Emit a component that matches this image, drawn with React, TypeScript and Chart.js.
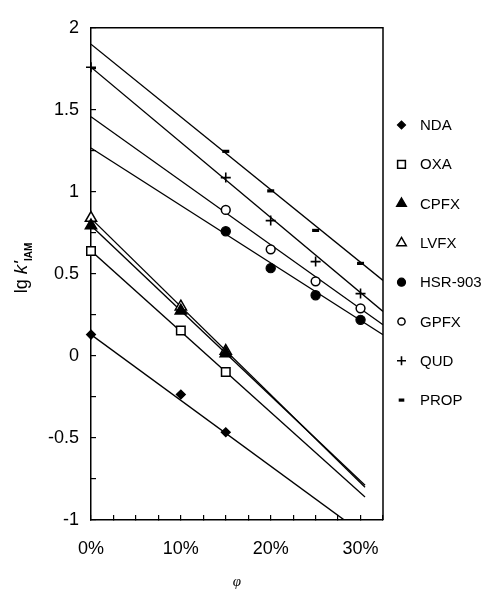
import React, { useEffect, useRef } from 'react';
import { Chart, registerables } from 'chart.js';
import { drawPoint } from 'chart.js/helpers';

Chart.register(...registerables);

const SANS = "'Liberation Sans', Arial, sans-serif";
const SERIF = "'Liberation Serif', 'Times New Roman', serif";

// ---- data ----
const seriesNames = ['NDA', 'OXA', 'CPFX', 'LVFX', 'HSR-903', 'GPFX', 'QUD', 'PROP'];

const ndaX = [0, 10, 15];
const ndaY = [0.13, -0.235, -0.465];
const oxaX = [0, 10, 15];
const oxaY = [0.64, 0.155, -0.098];
const cpfxX = [0, 10, 15];
const cpfxY = [0.795, 0.275, 0.015];
const lvfxX = [0, 10, 15];
const lvfxY = [0.84, 0.3, 0.03];
const hsrX = [15, 20, 25, 30];
const hsrY = [0.76, 0.535, 0.37, 0.22];
const gpfxX = [15, 20, 25, 30];
const gpfxY = [0.89, 0.65, 0.455, 0.29];
const qudX = [0, 15, 20, 25, 30];
const qudY = [1.76, 1.087, 0.825, 0.575, 0.38];
const propX = [15, 20, 25, 30];
const propY = [1.247, 1.006, 0.765, 0.564];

// regression lines: lg k' = intercept + slope * phi, drawn from 0 to fitEnd
const fitIntercept = [0.13, 0.641, 0.795, 0.838, 1.267, 1.458, 1.76, 1.9];
const fitSlope = [-0.0401, -0.0492, -0.0519, -0.0537, -0.035, -0.039, -0.0458, -0.0443];
const fitEnd = [28.2, 30.5, 30.5, 30.5, 32.5, 32.5, 32.5, 32.5];

const xTickStep = 2.5;
const yTickStep = 0.25;
const xMin = 0;
const xMax = 32.5;
const yMin = -1;
const yMax = 2;

// ---- styles ----
const allX = [ndaX, oxaX, cpfxX, lvfxX, hsrX, gpfxX, qudX, propX];
const allY = [ndaY, oxaY, cpfxY, lvfxY, hsrY, gpfxY, qudY, propY];
const markerStyle = ['rectRot', 'rect', 'triangle', 'triangle', 'circle', 'circle', 'cross', 'line'];
const markerFilled = [true, false, true, false, true, false, true, true];
const markerRadius = [4.5, 6, 6.5, 6.5, 4.6, 4.4, 5, 3.5];
const markerBorder = [1.2, 1.5, 1.5, 1.5, 1.2, 1.5, 1.6, 3.2];
const legendRadius = [4, 5.5, 5.5, 5.5, 4, 3.6, 4.5, 2.8];

const decorPlugin = {
  id: 'decor',
  afterDraw(chart: any) {
    const { ctx, chartArea: a } = chart;
    ctx.save();
    // frame top & right
    ctx.strokeStyle = '#000';
    ctx.lineWidth = 1.5;
    ctx.beginPath();
    ctx.moveTo(a.left, a.top);
    ctx.lineTo(a.right, a.top);
    ctx.lineTo(a.right, a.bottom);
    ctx.stroke();

    // legend
    const lx = 401.5;
    const tx = 420;
    const y0 = 125;
    const dy = 39.3;
    ctx.textBaseline = 'middle';
    ctx.textAlign = 'left';
    seriesNames.forEach((name, i) => {
      const y = y0 + dy * i;
      ctx.fillStyle = markerFilled[i] ? '#000' : '#fff';
      ctx.strokeStyle = '#000';
      ctx.lineWidth = markerBorder[i];
      drawPoint(ctx, { pointStyle: markerStyle[i], radius: legendRadius[i], borderWidth: markerBorder[i], rotation: 0 }, lx, y);
      ctx.fillStyle = '#000';
      ctx.font = `15px ${SANS}`;
      ctx.fillText(name, tx, y + 1);
    });

    // y-axis title: lg k'IAM (rotated)
    ctx.translate(27, 268);
    ctx.rotate(-Math.PI / 2);
    const parts = [
      { t: 'lg ', f: `18px ${SANS}`, d: 0 },
      { t: "k'", f: `italic 19px ${SANS}`, d: 0 },
      { t: 'IAM', f: `bold 10px ${SANS}`, d: 5 },
    ];
    let total = 0;
    parts.forEach((p) => {
      ctx.font = p.f;
      total += ctx.measureText(p.t).width;
    });
    let x = -total / 2;
    ctx.textBaseline = 'alphabetic';
    ctx.fillStyle = '#000';
    parts.forEach((p) => {
      ctx.font = p.f;
      ctx.fillText(p.t, x, p.d);
      x += ctx.measureText(p.t).width;
    });
    ctx.restore();
  },
};

export default function App() {
  const ref = useRef<HTMLCanvasElement | null>(null);

  useEffect(() => {
    if (!ref.current) return;
    const markerSets = seriesNames.map((name, i) => ({
      label: name,
      data: allX[i].map((x, j) => ({ x, y: allY[i][j] })),
      showLine: false,
      pointStyle: markerStyle[i],
      pointRadius: markerRadius[i],
      pointBackgroundColor: markerFilled[i] ? '#000' : '#fff',
      pointBorderColor: '#000',
      pointBorderWidth: markerBorder[i],
      clip: false,
      order: 0,
    }));
    const lineSets = seriesNames.map((name, i) => ({
      label: name + ' fit',
      data: [
        { x: 0, y: fitIntercept[i] },
        { x: fitEnd[i], y: fitIntercept[i] + fitSlope[i] * fitEnd[i] },
      ],
      showLine: true,
      borderColor: '#000',
      borderWidth: 1.3,
      pointRadius: 0,
      fill: false,
      order: 1,
    }));

    const chart = new Chart(ref.current, {
      type: 'scatter',
      data: { datasets: [...markerSets, ...lineSets] as any },
      options: {
        animation: false,
        responsive: false,
        devicePixelRatio: 1,
        events: [],
        layout: { padding: { top: 22, right: 100, bottom: 0, left: 0 } },
        plugins: {
          legend: { display: false },
          tooltip: { enabled: false },
        },
        scales: {
          x: {
            type: 'linear',
            min: xMin,
            max: xMax,
            border: { display: true, color: '#000', width: 1.5 },
            grid: { display: true, drawOnChartArea: false, drawTicks: true, tickLength: -5, color: '#000', lineWidth: 1.2 },
            ticks: {
              stepSize: xTickStep,
              autoSkip: false,
              maxRotation: 0,
              padding: 23,
              color: '#000',
              font: { family: SANS, size: 18 },
              callback: (v: any) => (Math.abs(Number(v) % 10) < 1e-9 ? `${v}%` : ''),
            },
            title: { display: true, text: 'φ', color: '#000', font: { family: SERIF, size: 15, style: 'italic' }, padding: { top: 0, bottom: -2 } },
            afterFit: (s: any) => {
              s.height = 69;
            },
          },
          y: {
            type: 'linear',
            min: yMin,
            max: yMax,
            border: { display: true, color: '#000', width: 1.5 },
            grid: { display: true, drawOnChartArea: false, drawTicks: true, tickLength: -5, color: '#000', lineWidth: 1.2 },
            ticks: {
              stepSize: yTickStep,
              autoSkip: false,
              padding: 17,
              color: '#000',
              font: { family: SANS, size: 18 },
              callback: (v: any) => {
                const n = Number(v);
                return Math.abs(n * 2 - Math.round(n * 2)) < 1e-9 ? String(n) : '';
              },
            },
            afterFit: (s: any) => {
              s.width = 91;
            },
          },
        },
      } as any,
      plugins: [decorPlugin],
    });
    return () => chart.destroy();
  }, []);

  return (
    <div style={{ position: 'absolute', left: 0, top: 0, width: 483, height: 589, background: '#fff' }}>
      <canvas ref={ref} width={483} height={589} style={{ display: 'block' }} />
    </div>
  );
}
